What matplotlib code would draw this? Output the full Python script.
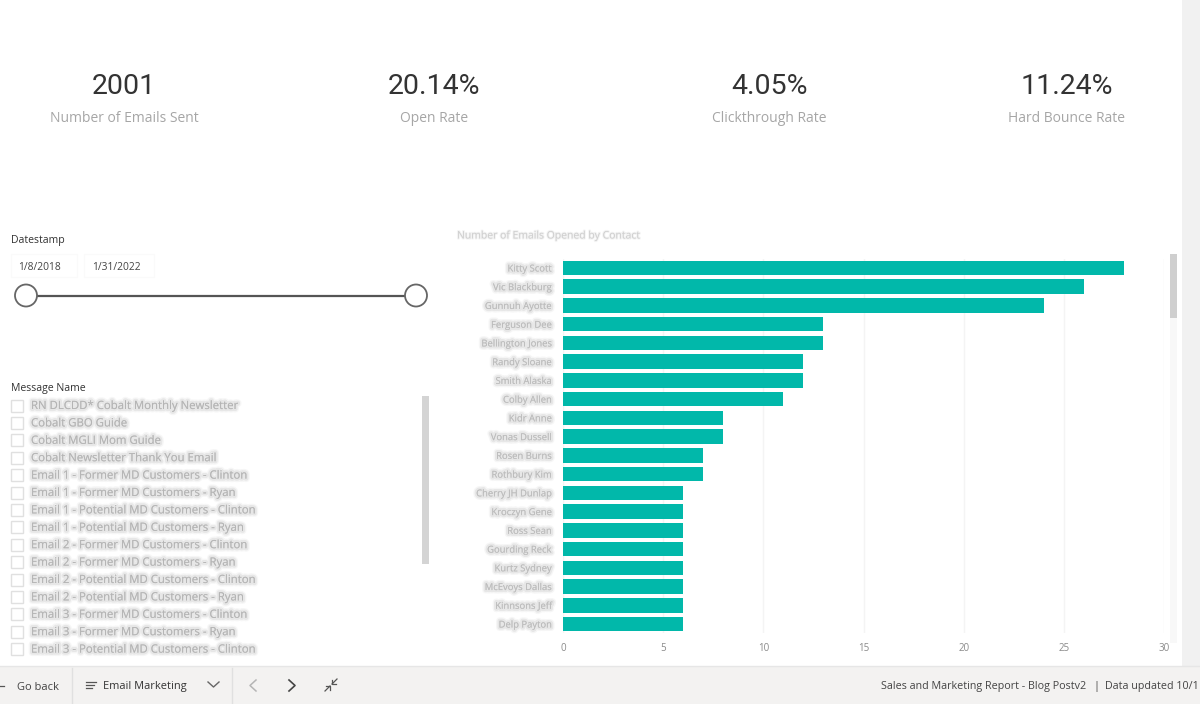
import matplotlib
matplotlib.use('Agg')
from matplotlib import pyplot
from matplotlib.patches import Rectangle, Circle
import matplotlib.patheffects as pe

pyplot.rcParams['font.family'] = ['Open Sans', 'DejaVu Sans']

contacts = ['Kitty Scott', 'Vic Blackburg', 'Gunnuh Ayotte', 'Ferguson Dee',
            'Bellington Jones', 'Randy Sloane', 'Smith Alaska', 'Colby Allen',
            'Kidr Anne', 'Vonas Dussell', 'Rosen Burns', 'Rothbury Kim',
            'Cherry JH Dunlap', 'Kroczyn Gene', 'Ross Sean', 'Gourding Reck',
            'Kurtz Sydney', 'McEvoys Dallas', 'Kinnsons Jeff', 'Delp Payton']
opened = [28, 26, 24, 13, 13, 12, 12, 11, 8, 8, 7, 7, 6, 6, 6, 6, 6, 6, 6, 6]
x_ticks = [0, 5, 10, 15, 20, 25, 30]

kpi_values = ['2001', '20.14%', '4.05%', '11.24%']
kpi_labels = ['Number of Emails Sent', 'Open Rate', 'Clickthrough Rate', 'Hard Bounce Rate']
kpi_x = [124, 434, 769, 1067]

messages = ['RN DLCDD* Cobalt Monthly Newsletter', 'Cobalt GBO Guide',
            'Cobalt MGLI Mom Guide', 'Cobalt Newsletter Thank You Email',
            'Email 1 - Former MD Customers - Clinton', 'Email 1 - Former MD Customers - Ryan',
            'Email 1 - Potential MD Customers - Clinton', 'Email 1 - Potential MD Customers - Ryan',
            'Email 2 - Former MD Customers - Clinton', 'Email 2 - Former MD Customers - Ryan',
            'Email 2 - Potential MD Customers - Clinton', 'Email 2 - Potential MD Customers - Ryan',
            'Email 3 - Former MD Customers - Clinton', 'Email 3 - Former MD Customers - Ryan',
            'Email 3 - Potential MD Customers - Clinton']

W, H = 1200, 704
fig = pyplot.figure(figsize=(W / 100, H / 100), dpi=100, facecolor='white')

# whole page in pixel coordinates, for the report furniture
page = fig.add_axes([0, 0, 1, 1])
page.set_xlim(0, W)
page.set_ylim(H, 0)
page.axis('off')

# the names are smudged in the reference, so smear them with soft strokes
blur = [pe.withStroke(linewidth=5, foreground='#e4e4e4', alpha=0.3),
        pe.withStroke(linewidth=3, foreground='#d6d6d6', alpha=0.45)]

page.add_patch(Rectangle((1182, 0), 18, H, fc='#f1f1f1', ec='none'))
page.add_patch(Rectangle((0, 666), W, 38, fc='#f3f2f1', ec='none'))
page.plot([0, W], [666, 666], color='#e6e6e6', lw=1)

for x, value, label in zip(kpi_x, kpi_values, kpi_labels):
    page.text(x, 87, value, ha='center', va='center', fontsize=20.5, color='#333333',
              family=['Roboto', 'DejaVu Sans'])
    page.text(x, 119, label, ha='center', va='center', fontsize=10, color='#a6a6a6')

# date slicer
page.text(11, 241, 'Datestamp', va='center', fontsize=7.6, color='#333333')
page.add_patch(Rectangle((11, 254), 66, 23, fc='white', ec='#fafafa', lw=1))
page.add_patch(Rectangle((84, 254), 70, 23, fc='white', ec='#fafafa', lw=1))
page.text(18, 267, '1/8/2018', va='center', fontsize=7.4, color='#444444')
page.text(92, 267, '1/31/2022', va='center', fontsize=7.4, color='#444444')
page.plot([36, 405], [295.5, 295.5], color='#555555', lw=1.6, zorder=2)
for cx in [26, 416]:
    page.add_patch(Circle((cx, 295.5), 11, fc='white', ec='#666666', lw=1.3, zorder=3))

# message list
page.text(11, 388.5, 'Message Name', va='center', fontsize=7.6, color='#333333')
for i, name in enumerate(messages):
    y = 405.5 + i * 17.4
    page.add_patch(Rectangle((11, y - 6), 12, 12, fc='white', ec='#e0e0e0', lw=1))
    page.text(31, y + 1, name, va='center', fontsize=8.2, color='#b0b0b0', alpha=0.8,
              path_effects=blur)
page.add_patch(Rectangle((422, 396), 7, 168, fc='#d4d4d4', ec='none'))

# chart title and its scrollbar
page.text(457, 236, 'Number of Emails Opened by Contact', va='center', fontsize=7.5,
          color='#cfcfcf', path_effects=[pe.withStroke(linewidth=1.5, foreground='#e8e8e8', alpha=0.5)])
page.add_patch(Rectangle((1170, 254), 7, 64, fc='#cfcfcf', ec='none'))
page.add_patch(Rectangle((1170, 318), 7, 325, fc='#f8f8f8', ec='none'))

# footer
page.text(17, 687, 'Go back', va='center', fontsize=8, color='#444444')
page.plot([0, 4], [686, 686], color='#555555', lw=0.9)
page.plot([72, 72], [668, 704], color='#e0e0e0', lw=1)
for y, x1 in zip([682, 685, 688], [96, 94, 92]):
    page.plot([86, x1], [y, y], color='#555555', lw=0.9)
page.text(103, 687, 'Email Marketing', va='center', fontsize=7.9, color='#333333')
page.plot([208, 213.5, 219], [682, 687, 682], color='#666666', lw=1)
page.plot([232, 232], [668, 704], color='#e0e0e0', lw=1)
page.plot([256, 250, 256], [680, 685.5, 691], color='#b5b5b5', lw=1.1)
page.plot([289, 295, 289], [680, 685.5, 691], color='#444444', lw=1.2)
# collapse icon, two small arrows pointing at each other
page.plot([325, 330], [691, 686], color='#555555', lw=0.9)
page.plot([326, 330, 330], [686, 686, 690], color='#555555', lw=0.9)
page.plot([332, 337], [684, 679], color='#555555', lw=0.9)
page.plot([332, 332, 336], [680, 684, 684], color='#555555', lw=0.9)
page.text(881, 686.5, 'Sales and Marketing Report - Blog Postv2', va='center', fontsize=7.75, color='#444444')
page.text(1096, 686, '|', va='center', ha='center', fontsize=8, color='#444444')
page.text(1105, 686.5, 'Data updated 10/1', va='center', fontsize=7.75, color='#444444')

# bar chart
left, right = 563, 1164
top, bottom = 258.6, 633.4
axis = fig.add_axes([left / W, 1 - bottom / H, (right - left) / W, (bottom - top) / H])
axis.patch.set_alpha(0)
positions = list(range(len(contacts)))
axis.barh(positions, opened, height=0.78, color='#01b8aa', zorder=2)
axis.set_xlim(0, 30)
axis.set_ylim(len(contacts) - 0.5, -0.5)
axis.set_xticks(x_ticks)
axis.set_yticks(positions)
axis.set_yticklabels(contacts, fontsize=6.8, color='#b8b8b8', alpha=0.8, path_effects=blur)
axis.tick_params(axis='both', length=0)
axis.tick_params(axis='y', pad=8)
axis.tick_params(axis='x', labelsize=7, labelcolor='#8a8a8a', pad=7)
axis.grid(axis='x', color='#f4f4f4', lw=1, zorder=0)
for side in axis.spines.values():
    side.set_visible(False)

pyplot.savefig('out.png', dpi=100)
